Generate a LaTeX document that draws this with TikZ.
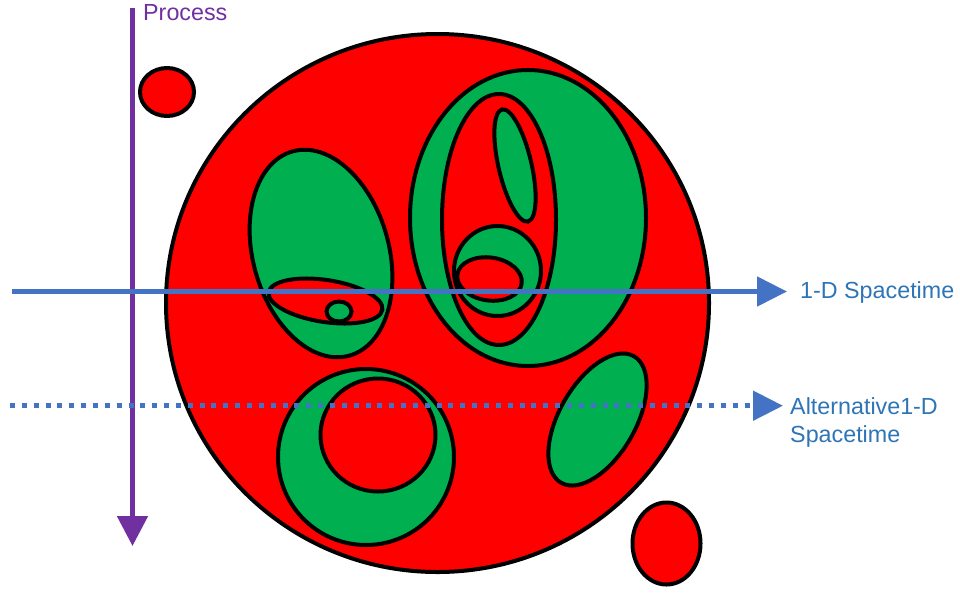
\documentclass[tikz,border=0pt]{standalone}
\usepackage{fontspec}
\setmainfont{Liberation Sans}
\usetikzlibrary{arrows.meta}
\definecolor{myred}{HTML}{FF0000}
\definecolor{mygreen}{HTML}{00B050}
\definecolor{mypurple}{HTML}{7030A0}
\definecolor{myblue}{HTML}{4472C4}
\definecolor{mytext}{HTML}{2E75B6}
\begin{document}
\begin{tikzpicture}[x=1pt,y=-1pt,
  blob/.style={draw=black,line width=4pt},
  redblob/.style={blob,fill=myred},
  greenblob/.style={blob,fill=mygreen},
  axisline/.style={line width=5pt},
  lbl/.style={font=\fontsize{23.3}{28}\selectfont,inner sep=0pt,anchor=base west}]
\useasboundingbox (0,0) rectangle (960,595);
\fill[white] (0,0) rectangle (960,595);
% outer shapes
\path[redblob] (437.5,303) ellipse [x radius=271.5pt, y radius=269pt];
\path[redblob] (167,92) ellipse [x radius=27pt, y radius=24pt];
\path[redblob] (666.5,543.5) ellipse [x radius=34pt, y radius=41pt];
% left green group
\path[greenblob, rotate around={15.5:(321,253.5)}] (321,253.5) ellipse [x radius=68pt, y radius=106pt];
\path[redblob, rotate around={-8.7:(325.5,301)}] (325.5,301) ellipse [x radius=57.5pt, y radius=21pt];
\path[greenblob] (339,311.5) ellipse [x radius=12.5pt, y radius=10pt];
% right green group
\path[greenblob] (528,218) ellipse [x radius=118pt, y radius=148pt];
\path[redblob] (499,219.5) ellipse [x radius=57pt, y radius=125.5pt];
\path[greenblob, rotate around={13:(515,165.5)}] (515,165.5) ellipse [x radius=16.5pt, y radius=57.5pt];
\path[greenblob] (497.5,271) ellipse [x radius=43.5pt, y radius=45pt];
\path[redblob, rotate around={-8:(489.5,279)}] (489.5,279) ellipse [x radius=32.5pt, y radius=21.5pt];
% bottom group
\path[greenblob] (366,457) ellipse [x radius=88pt, y radius=88pt];
\path[redblob] (378,435) ellipse [x radius=57.5pt, y radius=56.5pt];
\path[greenblob, rotate around={-30:(597.5,419.5)}] (597.5,419.5) ellipse [x radius=38pt, y radius=73pt];
% axes
\coordinate (pTop) at (132.5,8);
\coordinate (pTip) at (132.5,546);
\draw[axisline, mypurple, -{Triangle[length=30pt,width=30pt]}] (pTop) -- (pTip);
\coordinate (sL) at (12,291.5);
\coordinate (sTip) at (787,291.5);
\draw[axisline, myblue, -{Triangle[length=30pt,width=29pt]}] (sL) -- (sTip);
\coordinate (dL) at (10,405.7);
\coordinate (dTip) at (783,405.7);
\draw[axisline, myblue, dash pattern=on 5pt off 6.85pt, -{Triangle[length=30pt,width=29pt]}] (dL) -- (dTip);
% labels
\node[lbl, text=mypurple] (proc) at (143,20) {Process};
\node[lbl, text=mytext] (s1) at (800,298) {1-D Spacetime};
\node[lbl, text=mytext] (alt1) at (790,414) {Alternative1-D};
\node[lbl, text=mytext] (alt2) at (790,442) {Spacetime};
\end{tikzpicture}
\end{document}
